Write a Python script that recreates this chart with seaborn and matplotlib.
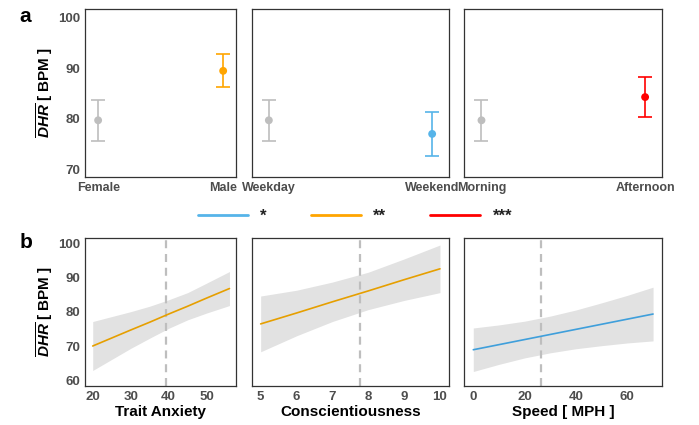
import matplotlib
matplotlib.use("Agg")
import matplotlib.pyplot as plt
from matplotlib.lines import Line2D
import seaborn as sns
import pandas as pd

# ---------------- data ----------------
cats_sex = ["Female", "Male"]
mean_sex = [79.7, 89.5]
lo_sex = [75.6, 86.2]
hi_sex = [83.8, 92.9]

cats_day = ["Weekday", "Weekend"]
mean_day = [79.7, 77.0]
lo_day = [75.6, 72.6]
hi_day = [83.8, 81.4]

cats_time = ["Morning", "Afternoon"]
mean_time = [79.7, 84.3]
lo_time = [75.6, 80.3]
hi_time = [83.8, 88.2]

anx_x = [20, 25, 30, 35, 40, 45, 50, 56]
anx_fit = [70.0, 72.35, 74.7, 77.0, 79.4, 81.7, 84.1, 86.9]
anx_hi = [77.2, 78.65, 80.1, 81.7, 83.6, 85.7, 88.5, 91.9]
anx_lo = [62.8, 66.05, 69.3, 72.3, 75.2, 77.7, 79.7, 81.9]
anx_ref = 39.4

con_x = [5, 6, 7, 8, 9, 10]
con_fit = [76.5, 79.7, 83.0, 86.2, 89.5, 92.7]
con_hi = [84.7, 86.4, 88.8, 91.7, 95.6, 99.7]
con_lo = [68.3, 73.0, 77.2, 80.7, 83.4, 85.7]
con_ref = 7.77

spd_x = [0, 10, 20, 30, 40, 50, 60, 70]
spd_fit = [68.9, 70.4, 71.9, 73.4, 74.9, 76.4, 77.9, 79.4]
spd_hi = [75.3, 76.2, 77.3, 78.8, 80.6, 82.7, 84.9, 87.3]
spd_lo = [62.5, 64.6, 66.5, 68.0, 69.2, 70.1, 70.9, 71.5]
spd_ref = 26.2

legend_labels = ["*", "**", "***"]

# ---------------- style ----------------
GREY = "#BEBEBE"
ORANGE = "#FFA500"
ORANGE_LINE = "#E69F00"
BLUE = "#56B4E9"
BLUE_LINE = "#3F9FDB"
RED = "#FF0000"
RIBBON = "#E2E2E2"
FRAME = "#333333"
TICKTXT = "#4D4D4D"

sns.set_style("white")
plt.rcParams["font.family"] = ["Liberation Sans", "DejaVu Sans"]
plt.rcParams["mathtext.fontset"] = "custom"
plt.rcParams["mathtext.it"] = "Liberation Sans:italic:bold"
plt.rcParams["mathtext.rm"] = "Liberation Sans:bold"
plt.rcParams["mathtext.bf"] = "Liberation Sans:bold"

W, H = 699, 425
fig = plt.figure(figsize=(W / 100, H / 100), dpi=100)


def px_axes(x0, y0, x1, y1):
    return fig.add_axes([x0 / W, 1 - y1 / H, (x1 - x0) / W, (y1 - y0) / H])


def style_axes(ax, show_y, xsize):
    for s in ax.spines.values():
        s.set_color(FRAME)
        s.set_linewidth(0.9)
        s.set_visible(True)
    ax.tick_params(axis="both", length=2.3, width=0.8, color=FRAME,
                   labelcolor=TICKTXT, pad=1.2)
    ax.tick_params(axis="y", labelsize=9.5)
    ax.tick_params(axis="x", labelsize=xsize)
    for lab in ax.get_xticklabels() + ax.get_yticklabels():
        lab.set_fontweight("bold")
    if not show_y:
        ax.tick_params(axis="y", left=False, labelleft=False)
    ax.set_ylabel("")
    ax.grid(False)


xcols = [(85, 236.3), (251.7, 449.3), (464.3, 662.3)]

# ---------------- top row ----------------
top_sets = [
    (cats_sex, mean_sex, lo_sex, hi_sex, [GREY, ORANGE]),
    (cats_day, mean_day, lo_day, hi_day, [GREY, BLUE]),
    (cats_time, mean_time, lo_time, hi_time, [GREY, RED]),
]
for i, (cats, m, lo, hi, cols) in enumerate(top_sets):
    ax = px_axes(xcols[i][0], 9.3, xcols[i][1], 177.3)
    df = pd.DataFrame({"cat": cats, "mean": m, "lo": lo, "hi": hi})
    for j in range(len(cats)):
        ax.errorbar([j], [m[j]], yerr=[[m[j] - lo[j]], [hi[j] - m[j]]],
                    fmt="none", ecolor=cols[j], elinewidth=1.2, capsize=4.8,
                    capthick=1.2, zorder=2)
    sns.scatterplot(data=df, x=[0, 1], y="mean", hue="cat", palette=cols,
                    s=32, edgecolor="none", legend=False, ax=ax, zorder=3)
    ax.set_xticks([0, 1])
    ax.set_xticklabels(cats)
    ax.set_xlim(-0.105, 1.105)
    ax.set_ylim(68.4, 101.7)
    ax.set_yticks([70, 80, 90, 100])
    ax.set_xlabel("")
    style_axes(ax, i == 0, 9)

# ---------------- bottom row ----------------
bot_sets = [
    (anx_x, anx_fit, anx_lo, anx_hi, anx_ref, ORANGE_LINE, "Trait Anxiety",
     (17.97, 57.8), [20, 30, 40, 50]),
    (con_x, con_fit, con_lo, con_hi, con_ref, ORANGE_LINE, "Conscientiousness",
     (4.75, 10.26), [5, 6, 7, 8, 9, 10]),
    (spd_x, spd_fit, spd_lo, spd_hi, spd_ref, BLUE_LINE, "Speed [ MPH ]",
     (-3.5, 73.6), [0, 20, 40, 60]),
]
for i, (x, fit, lo, hi, ref, col, title, xl, xt) in enumerate(bot_sets):
    ax = px_axes(xcols[i][0], 237.7, xcols[i][1], 386.3)
    ax.fill_between(x, lo, hi, color=RIBBON, linewidth=0, zorder=1)
    sns.lineplot(x=x, y=fit, color=col, linewidth=1.2, ax=ax, zorder=3)
    ax.axvline(ref, color="#BEBEBE", linewidth=1.6, dashes=(3.6, 2.6), zorder=2)
    ax.set_xlim(*xl)
    ax.set_xticks(xt)
    ax.set_ylim(58.15, 101.85)
    ax.set_yticks([60, 70, 80, 90, 100])
    ax.set_xlabel(title, fontsize=11, fontweight="bold", color="black", labelpad=1.5)
    style_axes(ax, i == 0, 9.5)

# ---------------- y titles and panel letters ----------------
ylab = r"$\overline{DHR}$ [ BPM ]"
fig.text(44.5 / W, 1 - 92.5 / H, ylab, rotation=90, ha="center", va="center",
         fontsize=11, fontweight="bold", color="black")
fig.text(44.5 / W, 1 - 311.7 / H, ylab, rotation=90, ha="center", va="center",
         fontsize=11, fontweight="bold", color="black")
fig.text(25.5 / W, 1 - 16 / H, "a", ha="center", va="center",
         fontsize=15, fontweight="bold", color="black")
fig.text(26.5 / W, 1 - 243 / H, "b", ha="center", va="center",
         fontsize=15, fontweight="bold", color="black")

# ---------------- legend ----------------
handles = [Line2D([], [], color=c, linewidth=2.0) for c in (BLUE, ORANGE, RED)]
leg = fig.legend(handles, legend_labels, ncol=3, loc="center",
                 bbox_to_anchor=(355 / W, 1 - 216 / H), frameon=False,
                 fontsize=12, handlelength=3.0, handletextpad=0.75,
                 columnspacing=2.65, borderaxespad=0, borderpad=0)
for t in leg.get_texts():
    t.set_fontweight("bold")
    t.set_color("#222222")

fig.savefig("out.png", dpi=100)
